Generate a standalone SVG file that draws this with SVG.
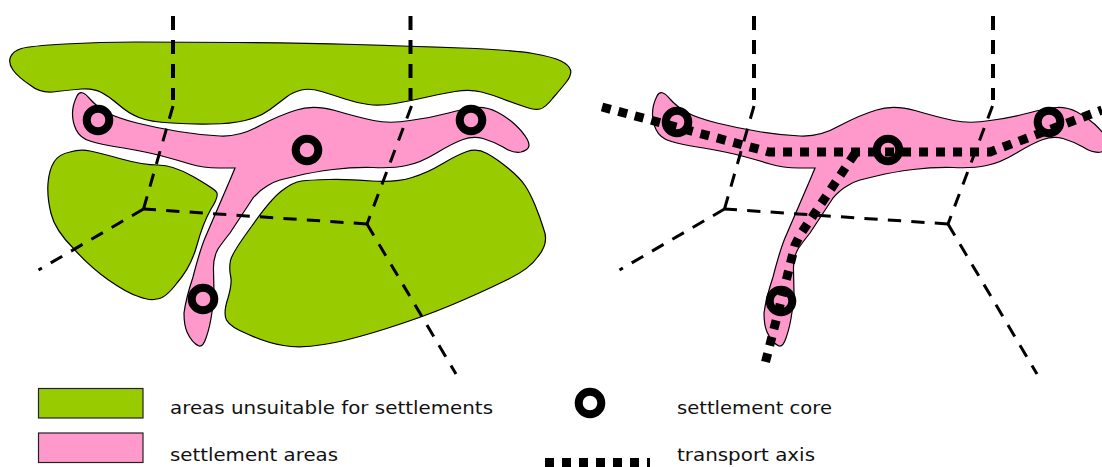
<svg xmlns="http://www.w3.org/2000/svg" xmlns:xlink="http://www.w3.org/1999/xlink" width="1102" height="467" viewBox="0 0 1102 467">
<style>
.green{fill:#99cc00;stroke:#000;stroke-width:1.2}
.pink{fill:#ff99cc;stroke:#000;stroke-width:1.2}
.box{stroke:#222;stroke-width:1.2}
.road{fill:none;stroke:#000;stroke-width:3;stroke-dasharray:13.300 10.200}
.roadT{fill:none;stroke:#000;stroke-width:4;stroke-dasharray:14 10}
.axis{fill:none;stroke:#000;stroke-width:9;stroke-dasharray:9 8}
.ring{fill:#ff99cc;stroke:#000;stroke-width:8}
text{font-family:"DejaVu Sans","Liberation Sans",sans-serif;font-size:18.500px;fill:#111}
</style>
<defs>
<path id="pinkShape" class="pink" d="M77,96 Q72.500,105 72.500,113.500 Q72.500,122 76,129.500 Q80,138 90,141 Q100,144.500 123.500,148 Q147,152 162,156 Q177,160 190,164 Q203,168 219,168 L235,168 L230,180 L205,238 Q200,250 193,277 Q186,298 184,313 Q184,325 187,332 Q192,343 199,346 Q203,347 206,338 Q210,327 212,312 Q214,303 214,293 L213.500,270 Q213,258 218,249 Q222,243 230,233 L253,198 Q260,190 267,186 Q273,182 280,180 L296.500,176 Q313,172 333,169.500 Q353,167 373,167.500 Q393,168.500 406.500,165.500 Q420,163 436.500,153 Q453,143 463,139.500 Q473,136 483,138.500 Q493,141.500 503,147 Q513,153.500 521,152 Q533,149 527,139 Q523,132 515,124.500 Q507,117 497,112 Q487,107 477,107.500 Q467,108 448.500,113 Q430,118 410,120.500 Q390,124 373.500,120.500 Q357,117 335,110.500 Q313,104.500 296.500,110 Q280,115 260,125.500 Q240,137 220,136 Q200,135 178.500,131.500 Q157,128 137,123 Q117,118 107,112.500 Q97,107 90,99 Q81,88 77,96Z"/>
</defs>
<g id="left-unsuitable">
<path class="green" d="M56.500,91.500 Q41,94 30,85 Q18,77 13,70 Q8,63 10.500,57 Q13,51 21.500,48.500 Q30,46 65,44 Q100,42 136.500,42 Q173,42 236.500,42.500 Q300,43 355,44.500 Q410,46 461.500,48 Q513,50 533,53.500 Q553,57 561,61 Q569,65 570.500,70 Q572,75 566,82.500 Q560,90 552.500,98.500 Q545,108 540,109 Q535,110.500 524,106.500 Q513,103 503,99 Q493,95 481.500,92 Q470,89 455,91.500 Q440,94 425,97.500 Q410,101 395,103.500 Q380,106 368.500,104.500 Q357,103 345,99 Q333,95 321.500,91.500 Q310,88 301.500,90 Q293,92 286.500,97 Q280,102 270,109.500 Q260,117 245,120.500 Q230,124 211.500,124 Q193,124.500 171.500,123 Q150,122 139,117.500 Q128,113 119,105 Q110,97 101.500,92.500 Q93,88 81.500,89 Q70,90 56.500,91.500Z"/>
<path class="green" d="M70,152 Q80,149 90,151 Q100,153 121.500,159 Q143,165 158,165 Q173,165 193,176.500 Q213,188 216,191.500 Q220,195 211,209 Q203,223 197,245 Q191,267 177,283 Q165,299 156.500,299 Q150,301 138.500,296.500 Q127,293 108.500,280 Q90,267 73.500,248.500 Q55,230 51,213.500 Q47,197 48,183.500 Q49,170 54,162 Q59,154 70,152Z"/>
<path class="green" d="M301.500,181 Q293,182 281.500,191 Q270,200 251.500,226.500 Q232,253 230.500,260.500 Q229,268 230.500,275.500 Q232.500,283 228,298 Q223,313 226.500,320 Q230,327 248.500,334.500 Q267,343 283.500,345.500 Q300,348.500 323.500,344.500 Q347,341 385,329 Q423,317 451.500,305 Q480,293 503.500,281.500 Q529,270 538,256.500 Q549,243 544,230 Q540,217 535,205 Q530,193 525,185.500 Q520,178 508.500,168.500 Q497,159 487,153.500 Q477,148 467,151.500 Q457,155 442,164 Q427,173 412,177.500 Q397,182.500 372,181 Q347,179 328.500,179.500 Q310,180 301.500,181Z"/>
</g>
<g id="left-settlement"><use href="#pinkShape" xlink:href="#pinkShape"/></g>
<g id="right-settlement"><use href="#pinkShape" xlink:href="#pinkShape" x="580"/></g>
<g id="connectors">
<path class="roadT" d="M173,16V100"/>
<path class="road" d="M173,106L143.500,209"/>
<path class="road" d="M143.500,209L38.500,270"/>
<path class="road" d="M367,224L143.500,209"/>
<path class="roadT" d="M410.500,16V100"/>
<path class="road" d="M411.500,106L367,224"/>
<path class="road" d="M367,224L456,374"/>
<path class="roadT" d="M754,16V100"/>
<path class="road" d="M754,106L724.500,209"/>
<path class="road" d="M724.500,209L619.500,270"/>
<path class="road" d="M948,224L724.500,209"/>
<path class="roadT" d="M993,16V100"/>
<path class="road" d="M992.500,106L948,224"/>
<path class="road" d="M948,224L1037,374"/>
</g>
<g id="core-1"><circle class="ring" cx="98" cy="120" r="11.300"/></g>
<g id="core-2"><circle class="ring" cx="307" cy="150" r="11.300"/></g>
<g id="core-3"><circle class="ring" cx="471" cy="120" r="11.300"/></g>
<g id="core-4"><circle class="ring" cx="203" cy="299" r="11.300"/></g>
<g id="core-5"><circle class="ring" cx="677" cy="122" r="11.300"/></g>
<g id="core-6"><circle class="ring" cx="888" cy="150" r="11.300"/></g>
<g id="core-7"><circle class="ring" cx="1049" cy="122" r="11.300"/></g>
<g id="core-8"><circle class="ring" cx="781" cy="301" r="11.300"/></g>
<g id="transport">
<path class="axis" d="M602,107L769,152H990L1102,110"/>
<path class="axis" d="M765.500,362L781,301L795,245L800,235L858,149"/>
</g>
<g id="legend">
<rect class="box" x="38.500" y="388.500" width="104.500" height="29.500" fill="#99cc00"/>
<rect class="box" x="38.500" y="433" width="104.500" height="29.500" fill="#ff99cc"/>
<circle cx="590" cy="403" r="11.300" fill="#fff" stroke="#000" stroke-width="8"/>
<path class="axis" d="M545,462.500H650"/>
<text x="170" y="414" textLength="323" lengthAdjust="spacingAndGlyphs">areas unsuitable for settlements</text>
<text x="170" y="461" textLength="168" lengthAdjust="spacingAndGlyphs">settlement areas</text>
<text x="677" y="414" textLength="155" lengthAdjust="spacingAndGlyphs">settlement core</text>
<text x="677" y="461" textLength="138" lengthAdjust="spacingAndGlyphs">transport axis</text>
</g>
</svg>
